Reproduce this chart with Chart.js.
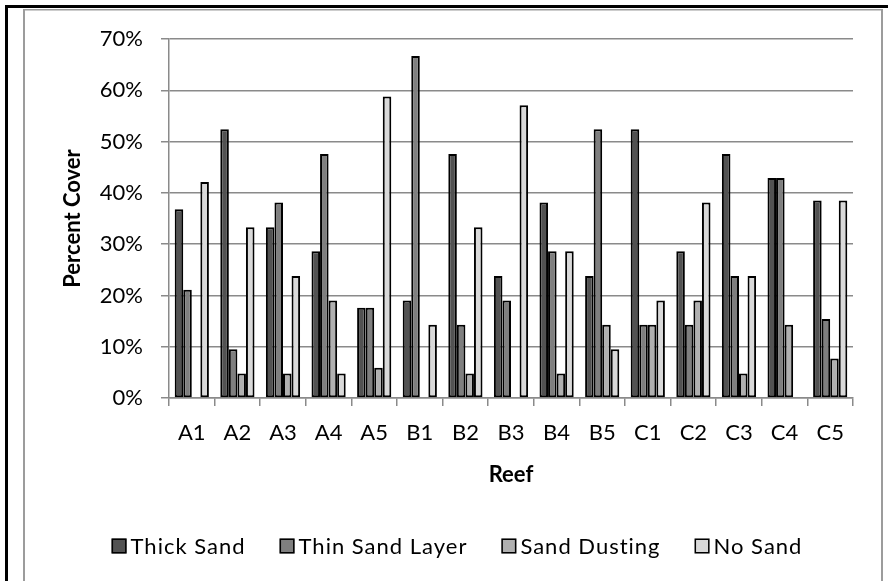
<!DOCTYPE html>
<html>
<head>
<meta charset="utf-8">
<title>Percent Cover by Reef</title>
<script src="https://cdn.jsdelivr.net/npm/chart.js@4.4.1/dist/chart.umd.min.js"></script>
<style>
  html, body { margin: 0; padding: 0; background: #fff; }
  #wrap { position: relative; width: 888px; height: 581px; }
  canvas { display: block; }
</style>
</head>
<body>
<div id="wrap"><canvas id="chart" width="888" height="581"></canvas></div>
<script>
// Reef sites along the x axis
const reefs = ['A1', 'A2', 'A3', 'A4', 'A5', 'B1', 'B2', 'B3', 'B4', 'B5', 'C1', 'C2', 'C3', 'C4', 'C5'];

// Percent cover of each sediment class per reef
const thickSand     = [36.8, 52.4, 33.3, 28.6, 17.6, 19.0, 47.6, 23.8, 38.1, 23.8, 52.4, 28.6, 47.6, 42.9, 38.5];
const thinSandLayer = [21.1,  9.5, 38.1, 47.6, 17.6, 66.7, 14.3, 19.0, 28.6, 52.4, 14.3, 14.3, 23.8, 42.9, 15.4];
const sandDusting   = [ 0.0,  4.8,  4.8, 19.0,  5.9,  0.0,  4.8,  0.0,  4.8, 14.3, 14.3, 19.0,  4.8, 14.3,  7.7];
const noSand        = [42.1, 33.3, 23.8,  4.8, 58.8, 14.3, 33.3, 57.1, 28.6,  9.5, 19.0, 38.1, 23.8,  0.0, 38.5];

const seriesNames = ['Thick Sand', 'Thin Sand Layer', 'Sand Dusting', 'No Sand'];
const yTickValues = [0, 10, 20, 30, 40, 50, 60, 70];

const FONT = 'Lato, "Open Sans", sans-serif';
const fills = ['#525252', '#7f7f7f', '#b0b0b0', '#d9d9d9'];
const gridColor = '#8a8a8a';

// White page with the black and grey frame lines
const framePlugin = {
  id: 'frame',
  beforeDraw(chart) {
    const ctx = chart.ctx;
    ctx.save();
    ctx.fillStyle = '#fff';
    ctx.fillRect(0, 0, chart.width, chart.height);
    ctx.fillStyle = '#000';
    ctx.fillRect(5, 5, chart.width - 5, 3);
    ctx.fillRect(5, 5, 3, chart.height - 5);
    ctx.fillStyle = '#9c9c9c';
    ctx.fillRect(23, 9, 860, 1.5);
    ctx.fillRect(23, 9, 2, chart.height - 9);
    ctx.fillRect(881, 9, 2, chart.height - 9);
    ctx.restore();
  }
};

// Legend row under the axis title: small swatches hugging their labels
const legendRow = {
  id: 'legendRow',
  afterDraw(chart) {
    const ctx = chart.ctx;
    const box = 15, boxGap = 4, itemGap = 34;
    const centerX = 457, centerY = 546;
    ctx.save();
    ctx.font = '22px ' + FONT;
    if ('letterSpacing' in ctx) ctx.letterSpacing = '1px';
    ctx.textBaseline = 'middle';
    ctx.textAlign = 'left';
    const items = chart.data.datasets.map(ds => ({
      text: ds.label,
      fill: ds.backgroundColor,
      w: box + boxGap + ctx.measureText(ds.label).width
    }));
    const total = items.reduce((s, it) => s + it.w, 0) + itemGap * (items.length - 1);
    let x = centerX - total / 2;
    items.forEach(it => {
      ctx.fillStyle = it.fill;
      ctx.fillRect(x, centerY - box / 2, box, box);
      ctx.lineWidth = 1.5;
      ctx.strokeStyle = '#000';
      ctx.strokeRect(x + 0.75, centerY - box / 2 + 0.75, box - 1.5, box - 1.5);
      ctx.fillStyle = '#000';
      ctx.fillText(it.text, x + box + boxGap, centerY + 1);
      x += it.w + itemGap;
    });
    ctx.restore();
  }
};

const seriesValues = [thickSand, thinSandLayer, sandDusting, noSand];

new Chart(document.getElementById('chart'), {
  type: 'bar',
  data: {
    labels: reefs,
    datasets: seriesNames.map((name, i) => ({
      label: name,
      data: seriesValues[i],
      backgroundColor: fills[i],
      borderColor: '#000',
      borderWidth: 2,
      borderSkipped: false,
      categoryPercentage: 0.75,
      barPercentage: 1.0
    }))
  },
  options: {
    responsive: false,
    animation: false,
    layout: { padding: { left: 0, top: 39, right: 35, bottom: 93 } },
    plugins: {
      legend: { display: false },
      tooltip: { enabled: false }
    },
    scales: {
      x: {
        afterFit(scale) { scale.height = 90; },
        grid: {
          display: true,
          offset: true,
          drawOnChartArea: false,
          drawTicks: true,
          tickLength: 8,
          color: gridColor,
          lineWidth: 1.5
        },
        border: { display: true, color: gridColor, width: 1.5 },
        ticks: {
          color: '#000',
          padding: 14,
          font: { family: FONT, size: 22 },
          maxRotation: 0,
          autoSkip: false
        },
        title: {
          display: true,
          text: 'Reef',
          color: '#000',
          font: { family: FONT, size: 22, weight: 'bold' },
          padding: { top: 0, bottom: 0 }
        }
      },
      y: {
        min: 0,
        max: 70,
        afterFit(scale) { scale.width = 169; },
        afterBuildTicks(scale) { scale.ticks = yTickValues.map(v => ({ value: v })); },
        grid: {
          color: gridColor,
          lineWidth: 1.5,
          drawTicks: true,
          tickLength: 8
        },
        border: { display: true, color: gridColor, width: 1.5 },
        ticks: {
          color: '#000',
          padding: 18,
          font: { family: FONT, size: 22 },
          callback: v => v + '%'
        },
        title: {
          display: true,
          text: 'Percent Cover',
          color: '#000',
          font: { family: FONT, size: 22, weight: 'bold' },
          padding: { top: 60, bottom: 0 }
        }
      }
    }
  },
  plugins: [framePlugin, legendRow]
});
</script>
</body>
</html>
